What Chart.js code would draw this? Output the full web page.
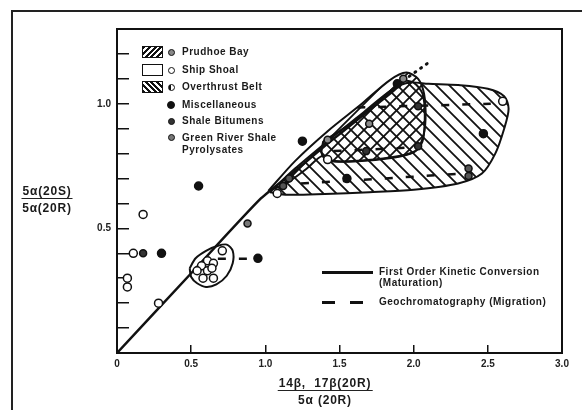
<!DOCTYPE html>
<html>
<head>
<meta charset="utf-8">
<script src="https://cdn.jsdelivr.net/npm/chart.js@4.4.1/dist/chart.umd.min.js"></script>
<style>
  html, body { margin: 0; padding: 0; background: #fff; }
  #wrap { position: relative; width: 582px; height: 410px; overflow: hidden;
          font-family: "Liberation Sans", Arial, sans-serif; font-weight: bold; color: #1a1a1a; }
  #c { position: absolute; left: 0; top: 0; }
  .frame { position: absolute; left: 11px; top: 10px; width: 640px; height: 440px;
           border-left: 2px solid #222; border-top: 2px solid #222; }
  .t { position: absolute; white-space: nowrap; font-size: 10px; letter-spacing: .5px; line-height: 12px; }
  .box { position: absolute; left: 142px; width: 19px; height: 10px; border: 1px solid #111; }
  .dot { position: absolute; left: 168px; width: 5px; height: 5px; border-radius: 50%; border: 1px solid #111; }
  .frac { position: absolute; transform: translateX(-50%); text-align: center; font-size: 12px; letter-spacing: .8px; }
  .frac .n { line-height: 14px; border-bottom: 1.5px solid #222; padding: 0 1px; }
  .frac .d { line-height: 14px; padding-top: 2px; }
  .sw { position: absolute; left: 322px; width: 51px; }
</style>
</head>
<body>
<div id="wrap">
  <div class="frame"></div>
  <canvas id="c" width="582" height="410"></canvas>

  <!-- marker / envelope key -->
  <div class="box" style="top:46px;background:repeating-linear-gradient(135deg,#111 0 2px,#fff 2px 4px);"></div>
  <div class="dot" style="top:49px;background:#888;"></div>
  <div class="t" style="left:182px;top:46px;">Prudhoe Bay</div>
  <div class="box" style="top:64px;background:#fff;"></div>
  <div class="dot" style="top:67px;background:#fff;"></div>
  <div class="t" style="left:182px;top:64px;">Ship Shoal</div>
  <div class="box" style="top:81px;background:repeating-linear-gradient(45deg,#111 0 2px,#fff 2px 4px);"></div>
  <div class="dot" style="top:84px;background:linear-gradient(90deg,#111 50%,#fff 50%);"></div>
  <div class="t" style="left:182px;top:81px;">Overthrust Belt</div>
  <div class="dot" style="top:101px;background:#111;width:6px;height:6px;left:167px;"></div>
  <div class="t" style="left:182px;top:99px;">Miscellaneous</div>
  <div class="dot" style="top:118px;background:#333;"></div>
  <div class="t" style="left:182px;top:115px;">Shale Bitumens</div>
  <div class="dot" style="top:134px;background:#777;"></div>
  <div class="t" style="left:182px;top:132px;">Green River Shale<br>Pyrolysates</div>

  <!-- line key -->
  <div class="sw" style="top:271px;border-top:3px solid #111;"></div>
  <div class="t" style="left:379px;top:266px;line-height:11px;">First Order Kinetic Conversion<br>(Maturation)</div>
  <div class="sw" style="top:301px;height:3px;background:repeating-linear-gradient(90deg,#111 0 13px,transparent 13px 28px);"></div>
  <div class="t" style="left:379px;top:296px;">Geochromatography (Migration)</div>

  <!-- axis titles -->
  <div class="frac" style="left:47px;top:184px;"><div class="n">5α(20S)</div><div class="d">5α(20R)</div></div>
  <div class="frac" style="left:325px;top:376px;"><div class="n">14β,&nbsp;&nbsp;17β(20R)</div><div class="d">5α (20R)</div></div>
</div>

<script>
// axis ticks
const xTickLabels = ['0', '0.5', '1.0', '1.5', '2.0', '2.5', '3.0'];
const yTickLabels = ['0.5', '1.0'];

// first order kinetic conversion (maturation) line
const kineticLine = [[0, 0], [0.5, 0.32], [0.97, 0.62], [1.2, 0.73], [1.42, 0.84], [1.65, 0.95], [1.86, 1.05], [1.93, 1.09]];
const kineticDots = [[1.97, 1.11], [2.1, 1.165]];

// geochromatography (migration) dashes
const migration1 = [[1.62, 0.985], [2.52, 1.0]];
const migration2 = [[1.46, 0.81], [2.0, 0.825]];
const migration3 = [[1.24, 0.68], [2.34, 0.72]];
const migration4 = [[0.68, 0.378], [0.94, 0.378]];

// envelopes
const overthrustEnvelope = [[1.03, 0.645], [1.2, 0.74], [1.42, 0.85], [1.65, 0.96], [1.85, 1.055], [1.97, 1.085], [2.1, 1.08],
  [2.3, 1.075], [2.5, 1.06], [2.61, 1.03], [2.64, 0.98], [2.61, 0.9], [2.55, 0.8], [2.46, 0.72], [2.3, 0.68], [2.0, 0.655],
  [1.7, 0.645], [1.4, 0.638], [1.15, 0.635], [1.03, 0.645]];
const prudhoeEnvelope = [[1.02, 0.65], [1.2, 0.77], [1.42, 0.89], [1.65, 1.0], [1.84, 1.095], [1.95, 1.125], [2.03, 1.1],
  [2.07, 1.04], [2.08, 0.94], [2.06, 0.86], [2.01, 0.81], [1.85, 0.785], [1.6, 0.77], [1.43, 0.772], [1.38, 0.79],
  [1.28, 0.74], [1.14, 0.68], [1.02, 0.65]];
const shipShoalEnvelope = [[1.39, 0.85], [1.38, 0.8], [1.42, 0.772], [1.6, 0.768], [1.85, 0.782], [2.0, 0.805], [2.06, 0.85],
  [2.075, 0.95], [2.06, 1.04], [2.0, 1.085], [1.93, 1.09], [1.8, 1.03], [1.6, 0.93], [1.39, 0.85]];
const smallEnvelope = [[0.49, 0.34], [0.5, 0.305], [0.54, 0.28], [0.6, 0.265], [0.67, 0.275], [0.74, 0.31], [0.78, 0.36],
  [0.78, 0.41], [0.74, 0.435], [0.68, 0.43], [0.6, 0.41], [0.53, 0.38], [0.49, 0.34]];

// samples
const prudhoeBay = [[1.93, 1.1], [1.7, 0.92], [1.42, 0.856]];
const shipShoal = [[0.71, 0.41], [0.61, 0.37], [0.57, 0.35], [0.54, 0.33], [0.61, 0.33], [0.65, 0.36], [0.58, 0.3],
  [0.65, 0.3], [0.64, 0.34], [1.42, 0.776], [2.6, 1.01], [0.11, 0.4], [0.176, 0.556], [0.07, 0.3], [0.07, 0.265],
  [0.28, 0.2], [1.08, 0.64]];
const overthrustBelt = [[2.37, 0.74], [2.37, 0.71], [1.12, 0.67], [1.16, 0.7]];
const miscellaneous = [[0.55, 0.67], [0.95, 0.38], [1.25, 0.85], [2.47, 0.88], [0.3, 0.4], [1.55, 0.7], [1.89, 1.08]];
const shaleBitumens = [[0.176, 0.4], [2.03, 0.83], [1.68, 0.81], [2.03, 0.99]];
const greenRiver = [[0.88, 0.52]];

const ink = '#111';
const xy = arr => arr.map(([x, y]) => ({x, y}));

const canvas = document.getElementById('c');
const ctx = canvas.getContext('2d');

function hatch(dir) {
  const s = 13;
  const c = document.createElement('canvas');
  c.width = c.height = s;
  const g = c.getContext('2d');
  g.strokeStyle = ink;
  g.lineWidth = 1.8;
  g.beginPath();
  if (dir === '/') {
    g.moveTo(0, s); g.lineTo(s, 0);
    g.moveTo(-2, 2); g.lineTo(2, -2);
    g.moveTo(s - 2, s + 2); g.lineTo(s + 2, s - 2);
  } else {
    g.moveTo(0, 0); g.lineTo(s, s);
    g.moveTo(-2, s - 2); g.lineTo(2, s + 2);
    g.moveTo(s - 2, -2); g.lineTo(s + 2, 2);
  }
  g.stroke();
  return ctx.createPattern(c, 'repeat');
}

const envelope = (data, fill) => ({
  data: xy(data), showLine: true, pointRadius: 0, tension: 0.3, order: 10,
  borderColor: ink, borderWidth: 2, fill: fill ? 'shape' : false, backgroundColor: fill || 'transparent'
});
const dashLine = data => ({
  data: xy(data), showLine: true, pointRadius: 0, order: 5,
  borderColor: ink, borderWidth: 2.5, borderDash: [8, 13], fill: false
});
const samples = (data, bg, r) => ({
  data: xy(data), showLine: false, order: 1, pointRadius: r, pointBackgroundColor: bg,
  pointBorderColor: ink, pointBorderWidth: 1.5
});

const tickFont = {family: '"Liberation Sans", Arial, sans-serif', weight: 'bold', size: 10};
const frameAxis = pos => ({
  type: 'linear', position: pos, min: 0, max: 1,
  ticks: {display: false}, grid: {drawOnChartArea: false, drawTicks: false},
  border: {color: ink, width: 2},
  afterFit: s => { if (pos === 'top') s.height = 0; else s.width = 0; }
});

new Chart(canvas, {
  type: 'scatter',
  data: {
    datasets: [
      envelope(overthrustEnvelope, hatch('\\')),
      envelope(prudhoeEnvelope, hatch('/')),
      envelope(shipShoalEnvelope, null),
      envelope(smallEnvelope, null),
      {data: xy(kineticLine), showLine: true, pointRadius: 0, order: 4, borderColor: ink, borderWidth: 2.5, tension: 0.2},
      {data: xy(kineticDots), showLine: true, pointRadius: 0, order: 4, borderColor: ink, borderWidth: 3,
       borderDash: [1, 6], borderCapStyle: 'round'},
      dashLine(migration1),
      dashLine(migration2),
      dashLine(migration3),
      dashLine(migration4),
      samples(prudhoeBay, '#8a8a8a', 3.5),
      samples(shipShoal, '#fff', 4),
      samples(overthrustBelt, '#555', 3.5),
      samples(miscellaneous, ink, 4),
      samples(shaleBitumens, '#333', 3.5),
      samples(greenRiver, '#777', 3.5)
    ]
  },
  options: {
    responsive: false,
    animation: false,
    events: [],
    devicePixelRatio: 1,
    layout: {padding: {left: 77, right: 20, top: 29, bottom: 27}},
    plugins: {legend: {display: false}, tooltip: {enabled: false}},
    scales: {
      x: {
        type: 'linear', position: 'bottom', min: 0, max: 3,
        ticks: {stepSize: 0.5, autoSkip: false, padding: 13, color: '#222', font: tickFont,
                callback: (v, i) => xTickLabels[i]},
        grid: {drawOnChartArea: false, drawTicks: true, tickLength: -8, color: ink, lineWidth: 1.5},
        border: {color: ink, width: 2},
        afterFit: s => { s.height = 30; }
      },
      y: {
        type: 'linear', position: 'left', min: 0, max: 1.3,
        ticks: {stepSize: 0.1, autoSkip: false, padding: 18, color: '#222', font: tickFont,
                callback: v => yTickLabels.includes(v.toFixed(1)) ? v.toFixed(1) : ''},
        grid: {drawOnChartArea: false, drawTicks: true, tickLength: -12, color: ink, lineWidth: 1.5},
        border: {color: ink, width: 2},
        afterFit: s => { s.width = 40; }
      },
      xTop: frameAxis('top'),
      yRight: frameAxis('right')
    }
  }
});
</script>
</body>
</html>
